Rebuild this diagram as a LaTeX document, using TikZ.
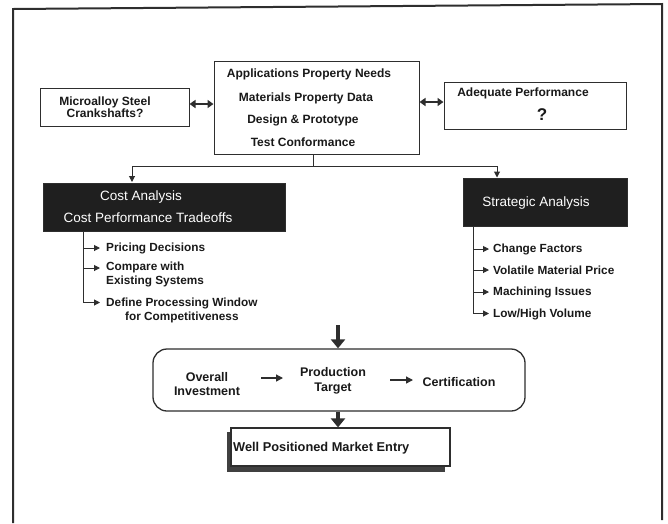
\documentclass[tikz,border=0pt]{standalone}
\usepackage{fontspec}
\setmainfont{Liberation Sans}
\usetikzlibrary{arrows.meta,shapes.misc}
\definecolor{ink}{gray}{0.18}
\tikzset{
  box/.style={draw=ink,line width=1pt,fill=white,inner sep=0pt},
  darkbox/.style={draw=ink,line width=1pt,fill=black!88,inner sep=0pt},
  txt/.style={inner sep=0pt,text=black!90,font=\fontsize{12}{13}\selectfont\bfseries},
  wtxt/.style={inner sep=0pt,text=white,font=\fontsize{13.5}{15}\selectfont},
  itemtxt/.style={txt,anchor=west,align=left,font=\fontsize{11.8}{14}\selectfont\bfseries},
  conn/.style={draw=ink,line width=1pt},
  smalltip/.style={-{Triangle[length=6pt,width=6pt]}},
  dbl/.style={{Triangle[length=6pt,width=8pt]}-{Triangle[length=6pt,width=8pt]},line width=1.8pt,draw=ink},
  bigarrow/.style={-{Triangle[length=9pt,width=14pt]},line width=4.5pt,draw=ink},
}
\begin{document}
\begin{tikzpicture}[x=1pt,y=-1pt]
\useasboundingbox (0,0) rectangle (668,523);
% frame
\draw[ink,line width=2pt] (13,523) -- (13,9) -- (662,4) -- (662,520);

% top row
\node[box,minimum width=149pt,minimum height=38pt] (micro) at (114.5,107) {};
\node[box,minimum width=205pt,minimum height=93pt] (central) at (316.5,107.5) {};
\node[box,minimum width=182pt,minimum height=47pt] (adeq) at (535,105.5) {};

\node[txt,align=center,font=\fontsize{12}{12.5}\selectfont\bfseries] (microt) at (105,107) {Microalloy Steel\\Crankshafts?};
\node[txt] (c1) at (309,74) {Applications Property Needs};
\node[txt] (c2) at (306,98) {Materials Property Data};
\node[txt] (c3) at (303,120) {Design \& Prototype};
\node[txt] (c4) at (303,142) {Test Conformance};
\node[txt] (adeqt) at (523,93) {Adequate Performance};
\node[txt,font=\fontsize{17}{17}\selectfont\bfseries] (qm) at (542,115) {?};

\draw[dbl] (micro.east |- 0,104) -- (central.west |- 0,104);
\draw[dbl] (central.east |- 0,102) -- (adeq.west |- 0,102);

% analysis boxes
\node[darkbox,minimum width=242pt,minimum height=48pt] (cost) at (164,207) {};
\node[darkbox,minimum width=164pt,minimum height=48pt] (strat) at (545,202) {};
\node[wtxt] (costa) at (141,197) {Cost Analysis};
\node[wtxt] (costb) at (148,218) {Cost Performance Tradeoffs};
\node[wtxt] (strata) at (536,203) {Strategic Analysis};

\coordinate (stem) at (313,166);
\coordinate (lft) at (132,166);
\coordinate (rgt) at (497,166);
\draw[conn] (central.south -| stem) -- (stem);
\draw[conn,smalltip] (stem) -- (lft) -- (132,182);
\draw[conn,smalltip] (stem) -- (rgt) -- (497,177.5);

% cost list
\node[itemtxt] (p1) at (106,248) {Pricing Decisions};
\node[itemtxt] (p2) at (106,274) {Compare with\\Existing Systems};
\node[itemtxt,align=center] (p3) at (106,310) {Define Processing Window\\for Competitiveness};
\coordinate (cl) at (83,231);
\draw[conn] (cl) -- (83,303);
\draw[conn,smalltip] (83,248) -- (100,248);
\draw[conn,smalltip] (83,268) -- (100,268);
\draw[conn,smalltip] (83,302.5) -- (100,302.5);

% strategic list
\node[itemtxt] (s1) at (493,249) {Change Factors};
\node[itemtxt] (s2) at (493,270) {Volatile Material Price};
\node[itemtxt] (s3) at (493,292) {Machining Issues};
\node[itemtxt] (s4) at (493,314) {Low/High Volume};
\draw[conn] (473,226) -- (473,314);
\draw[conn,smalltip] (473,249) -- (489,249);
\draw[conn,smalltip] (473,270) -- (489,270);
\draw[conn,smalltip] (473,292) -- (489,292);
\draw[conn,smalltip] (473,313.5) -- (489,313.5);

% bottom flow
\node[box,rounded corners=14pt,minimum width=372pt,minimum height=62pt,line width=1.3pt] (flow) at (339,380) {};
\coordinate (fa) at (338,325);
\draw[bigarrow] (fa) -- (flow.north -| fa);
\node[txt,align=center,font=\fontsize{12.5}{14}\selectfont\bfseries] (ov) at (207,384) {Overall\\Investment};
\node[txt,align=center,font=\fontsize{12.5}{15}\selectfont\bfseries] (pt) at (333,381) {Production\\Target};
\node[txt,font=\fontsize{12.5}{14}\selectfont\bfseries] (cert) at (459,382) {Certification};
\draw[conn,line width=1.3pt,-{Triangle[length=7pt,width=7pt]}] (261,378) -- (283,378);
\draw[conn,line width=1.3pt,-{Triangle[length=7pt,width=7pt]}] (390,380) -- (413,380);

% market entry
\fill[black!75] (227,432) rectangle (445,472);
\node[box,minimum width=219pt,minimum height=38pt,line width=1.2pt] (market) at (340.5,447) {};
\draw[bigarrow] (flow.south -| fa) -- (market.north -| fa);
\node[txt,anchor=west,font=\fontsize{12.8}{14}\selectfont\bfseries] (mt) at (233,448) {Well Positioned Market Entry};
\end{tikzpicture}
\end{document}
